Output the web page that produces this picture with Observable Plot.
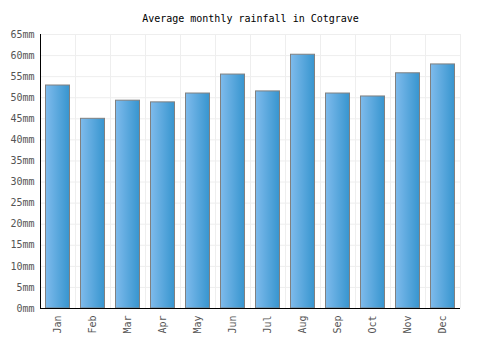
<!DOCTYPE html>
<html>
<head>
<meta charset="utf-8">
<script src="https://cdn.jsdelivr.net/npm/d3@7"></script>
<script src="https://cdn.jsdelivr.net/npm/@observablehq/plot@0.6"></script>
<style>
  body { margin: 0; background: #fff; }
  svg { display: block; }
</style>
</head>
<body>
<div id="chart"></div>
<script>
const months = ["Jan","Feb","Mar","Apr","May","Jun","Jul","Aug","Sep","Oct","Nov","Dec"];
const rainfall = [52.9, 45.0, 49.3, 48.9, 51.0, 55.5, 51.5, 60.2, 51.0, 50.3, 55.8, 57.9];
const yTicks = [0,5,10,15,20,25,30,35,40,45,50,55,60,65];
const title = "Average monthly rainfall in Cotgrave";

const data = months.map((m, i) => ({month: m, value: rainfall[i]}));
const font = "DejaVu Sans Mono, monospace";

const chart = Plot.plot({
  width: 500,
  height: 350,
  marginLeft: 40,
  marginRight: 40,
  marginTop: 34,
  marginBottom: 42,
  style: {fontFamily: font, fontSize: "10px", background: "#fff"},
  x: {domain: months, padding: 0, label: null},
  y: {domain: [0, 65], label: null},
  marks: [
    Plot.ruleY(yTicks, {stroke: "#eeeeee", strokeWidth: 1}),
    Plot.ruleX(months, {x: d => d, dx: 17.5, stroke: "#eeeeee", strokeWidth: 1}),
    Plot.barY(data, {x: "month", y: "value", fill: "url(#barGrad)", stroke: "#808080", strokeWidth: 1, insetLeft: 5.5, insetRight: 5.5}),
    Plot.axisY({ticks: yTicks, tickFormat: d => d + "mm", tickSize: 0, tickPadding: 6, fill: "#555", fontSize: 10}),
    Plot.axisX({tickSize: 0, tickRotate: -90, tickPadding: 7, fill: "#555", fontSize: 10}),
    Plot.ruleX([0], {x: () => months[0], dx: -17.5, stroke: "#000", strokeWidth: 1}),
    Plot.ruleY([0], {stroke: "#000", strokeWidth: 1}),
    Plot.text([title], {frameAnchor: "top", dy: -20, text: d => d, fill: "#000", fontSize: 10, fontFamily: font})
  ]
});

const ns = "http://www.w3.org/2000/svg";
const defs = document.createElementNS(ns, "defs");
const grad = document.createElementNS(ns, "linearGradient");
grad.setAttribute("id", "barGrad");
grad.setAttribute("x1", "0"); grad.setAttribute("y1", "0");
grad.setAttribute("x2", "1"); grad.setAttribute("y2", "0");
[["0%", "#7fbbec"], ["100%", "#3795cf"]].forEach(([o, c]) => {
  const s = document.createElementNS(ns, "stop");
  s.setAttribute("offset", o);
  s.setAttribute("stop-color", c);
  grad.appendChild(s);
});
defs.appendChild(grad);
chart.insertBefore(defs, chart.firstChild);
document.getElementById("chart").appendChild(chart);
</script>
</body>
</html>
